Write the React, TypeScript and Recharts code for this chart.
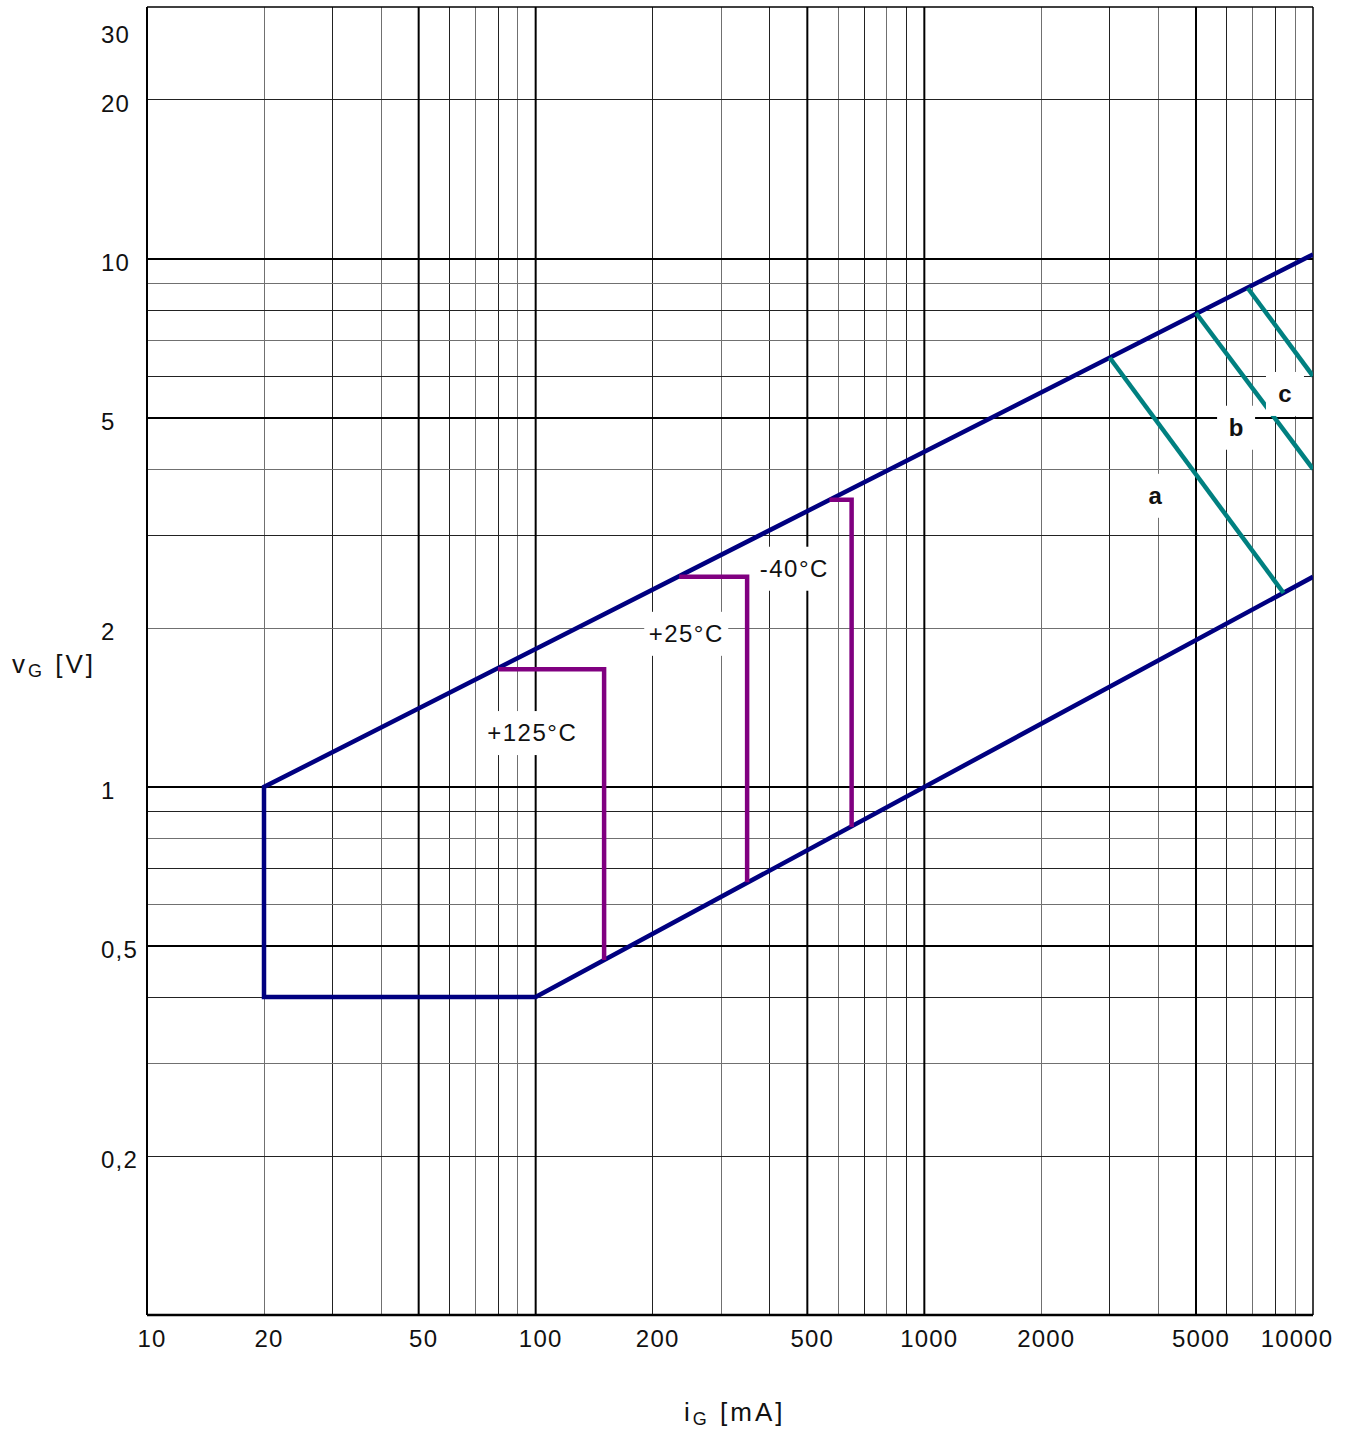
import { LineChart, Line, XAxis, YAxis, ReferenceLine, ReferenceDot } from 'recharts'

// axis ticks
const xTicks = [10, 20, 50, 100, 200, 500, 1000, 2000, 5000, 10000]
const yTicks = [0.2, 0.5, 1, 2, 5, 10, 20, 30]

// grid values
const xMajor = [50, 100, 500, 1000, 5000]
const xMinor = [20, 30, 40, 60, 70, 80, 90, 200, 300, 400, 600, 700, 800, 900, 2000, 3000, 4000, 6000, 7000, 8000, 9000]
const yMajor = [0.5, 1, 5, 10]
const yMinor = [0.2, 0.3, 0.4, 0.6, 0.7, 0.8, 0.9, 2, 3, 4, 6, 7, 8, 9, 20]

// gate trigger area boundary (iG mA, vG V)
const boundaryX = [10000, 20, 20, 100, 10000]
const boundaryY = [10.2, 1, 0.4, 0.4, 2.5]

// minimum trigger levels per temperature
const t125X = [80, 150, 150]
const t125Y = [1.67, 1.67, 0.47]
const t25X = [234, 350, 350]
const t25Y = [2.5, 2.5, 0.66]
const tm40X = [570, 650, 650]
const tm40Y = [3.5, 3.5, 0.84]

// max gate power curves a, b, c
const aX = [3000, 8400]
const aY = [6.5, 2.33]
const bX = [5000, 10000]
const bY = [7.9, 4.0]
const cX = [6800, 10000]
const cY = [8.8, 6.0]

// annotations
const labelText = ['+125°C', '+25°C', '-40°C', 'a', 'b', 'c']
const labelX = [98, 244, 463, 3925, 6340, 8470]
const labelY = [1.265, 1.95, 2.59, 3.56, 4.79, 5.55]
const labelBold = [false, false, false, true, true, true]

const zip = (xs: number[], ys: number[]) => xs.map((x, i) => ({ x, y: ys[i] }))

const NAVY = '#000080'
const PURPLE = '#800080'
const TEAL = '#008080'
const FONT = '"Liberation Sans", Arial, sans-serif'

const fmt = (v: number) => String(v).replace('.', ',')

const XTick = (props: any) => {
  const { x, payload } = props
  const v = payload.value
  const cx = v === 10000 ? x - 16 : x + 5
  return (
    <text x={cx} y={1347} textAnchor="middle" fontSize={24} letterSpacing={1.2} fill="#111" fontFamily={FONT}>
      {v}
    </text>
  )
}

const YTick = (props: any) => {
  const { y, payload } = props
  const v = payload.value
  const cy = v === 30 ? y + 28 : y + 4
  return (
    <text x={101} y={cy + 8} textAnchor="start" fontSize={24} letterSpacing={1.2} fill="#111" fontFamily={FONT}>
      {fmt(v)}
    </text>
  )
}

const BoxLabel = ({ cx, cy, text, bold }: { cx: number; cy: number; text: string; bold: boolean }) => {
  const w = bold ? 38 : text.length * 14 + 14
  const h = 44
  return (
    <g>
      <rect x={cx - w / 2} y={cy - h / 2} width={w} height={h} fill="#fff" />
      <text
        x={cx}
        y={cy + 8}
        textAnchor="middle"
        fontSize={24}
        fontWeight={bold ? 'bold' : 'normal'}
        letterSpacing={bold ? 0 : 1.5}
        fill="#111"
        fontFamily={FONT}
      >
        {text}
      </text>
    </g>
  )
}

const series = [
  { key: 'boundary', data: zip(boundaryX, boundaryY), color: NAVY },
  { key: 't125', data: zip(t125X, t125Y), color: PURPLE },
  { key: 't25', data: zip(t25X, t25Y), color: PURPLE },
  { key: 'tm40', data: zip(tm40X, tm40Y), color: PURPLE },
  { key: 'a', data: zip(aX, aY), color: TEAL },
  { key: 'b', data: zip(bX, bY), color: TEAL },
  { key: 'c', data: zip(cX, cY), color: TEAL }
]

export default function App() {
  return (
    <div style={{ position: 'absolute', left: 0, top: 0, width: 1351, height: 1430, background: '#fff', fontFamily: FONT }}>
      <LineChart width={1351} height={1430} margin={{ top: 7, right: 38, bottom: 0, left: 0 }}>
        <XAxis
          type="number"
          dataKey="x"
          scale="log"
          domain={[10, 10000]}
          allowDataOverflow
          ticks={xTicks}
          interval={0}
          tick={<XTick />}
          tickLine={false}
          axisLine={{ stroke: '#000', strokeWidth: 2.5 }}
          height={115}
        />
        <YAxis
          type="number"
          dataKey="y"
          scale="log"
          domain={[0.1, 30]}
          allowDataOverflow
          ticks={yTicks}
          interval={0}
          tick={<YTick />}
          tickLine={false}
          axisLine={{ stroke: '#000', strokeWidth: 2 }}
          width={147}
        />

        {xMinor.map((v, i) => (
          <ReferenceLine key={'xm' + v} x={v} stroke={i % 2 ? '#222' : '#707070'} strokeWidth={1} shapeRendering="crispEdges" />
        ))}
        {yMinor.map((v, i) => (
          <ReferenceLine key={'ym' + v} y={v} stroke={i % 2 ? '#707070' : '#222'} strokeWidth={1} shapeRendering="crispEdges" />
        ))}
        {xMajor.map(v => (
          <ReferenceLine key={'xM' + v} x={v} stroke="#000" strokeWidth={2} />
        ))}
        {yMajor.map(v => (
          <ReferenceLine key={'yM' + v} y={v} stroke="#000" strokeWidth={2} />
        ))}
        <ReferenceLine y={30} stroke="#000" strokeWidth={1.5} />
        <ReferenceLine x={10000} stroke="#000" strokeWidth={1.5} />

        {labelText.map((t, i) => (
          <ReferenceDot
            key={'lbl' + i}
            x={labelX[i]}
            y={labelY[i]}
            r={0}
            ifOverflow="visible"
            shape={(p: any) => <BoxLabel cx={p.cx} cy={p.cy} text={t} bold={labelBold[i]} />}
          />
        ))}

        {series.map(s => (
          <Line
            key={s.key}
            data={s.data}
            dataKey="y"
            type="linear"
            stroke={s.color}
            strokeWidth={4.5}
            dot={false}
            activeDot={false}
            strokeLinejoin="miter"
            isAnimationActive={false}
          />
        ))}
      </LineChart>

      <div style={{ position: 'absolute', left: 12, top: 650, fontSize: 26, lineHeight: '28px', letterSpacing: 3, color: '#111', whiteSpace: 'nowrap' }}>
        v<span style={{ fontSize: 18, position: 'relative', top: 4 }}>G</span> [V]
      </div>
      <div style={{ position: 'absolute', left: 684, top: 1398, fontSize: 26, lineHeight: '28px', letterSpacing: 3, color: '#111', whiteSpace: 'nowrap' }}>
        i<span style={{ fontSize: 18, position: 'relative', top: 4 }}>G</span> [mA]
      </div>
    </div>
  )
}
